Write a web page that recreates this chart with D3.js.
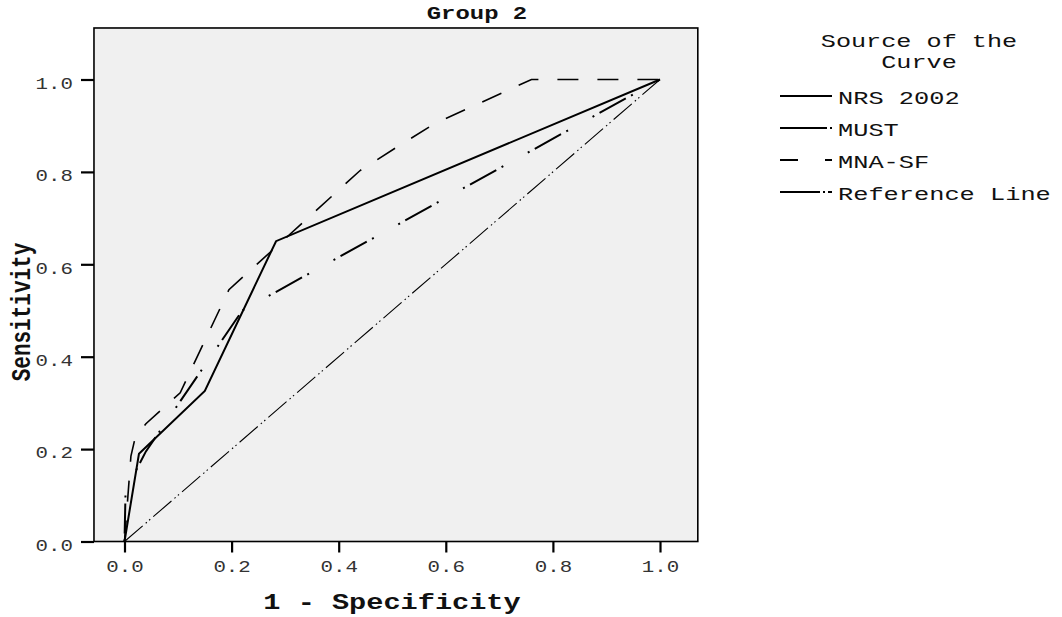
<!DOCTYPE html>
<html>
<head>
<meta charset="utf-8">
<script src="https://cdn.jsdelivr.net/npm/d3@7"></script>
<style>
  body { margin: 0; background: #fff; }
  svg { display: block; }
  text { font-family: "Liberation Mono", "Courier New", monospace; }
</style>
</head>
<body>
<script>
// ROC curves, values
const nrsX  = [0, 0.027, 0.15, 0.283, 1];
const nrsY  = [0, 0.19, 0.326, 0.65, 1];
const mustX = [0, 0.002, 0.04, 0.22, 1];
const mustY = [0, 0.11, 0.195, 0.5, 1];
const mnaX  = [0, 0.012, 0.02, 0.04, 0.104, 0.195, 0.44, 0.52, 0.58, 0.76, 1];
const mnaY  = [0, 0.185, 0.225, 0.255, 0.322, 0.545, 0.803, 0.862, 0.905, 1, 1];
const refX  = [0, 1];
const refY  = [0, 1];
const ticks = [0, 0.2, 0.4, 0.6, 0.8, 1.0];
const seriesNames = ["NRS 2002", "MUST", "MNA-SF", "Reference Line"];

const w = 1062, h = 617;
const sx = 1.3; // text in the picture is stretched sideways

const svg = d3.select("body").append("svg").attr("width", w).attr("height", h);

const xScale = d3.scaleLinear().domain([0, 1]).range([124.5, 660]);
const yScale = d3.scaleLinear().domain([0, 1]).range([541.5, 79.5]);

// plot box
svg.append("rect")
   .attr("x", xScale(-0.0570)).attr("y", yScale(1.1115))
   .attr("width", xScale(1.0706) - xScale(-0.0570))
   .attr("height", yScale(0) - yScale(1.1115))
   .attr("fill", "#f0f0f0").attr("stroke", "#000").attr("stroke-width", 1.6);

function stretchedText(x, y, str, size, weight, anchor, k) {
  return svg.append("text")
     .attr("transform", `translate(${x},${y}) scale(${k || sx},1)`)
     .attr("text-anchor", anchor || "start")
     .attr("font-size", size)
     .attr("font-weight", weight || "normal")
     .attr("fill", "#111")
     .text(str);
}

// axes
const xAxis = d3.axisBottom(xScale).tickValues(ticks).tickFormat(d3.format(".1f")).tickSize(11);
const gx = svg.append("g").attr("transform", `translate(0,${yScale(0)})`).call(xAxis);
gx.select(".domain").remove();
gx.selectAll("line").attr("stroke-width", 2.2);
gx.selectAll("text").attr("y", 31).attr("dy", 0).attr("transform", `scale(${sx},1)`)
  .attr("font-size", 16).attr("fill", "#333").attr("font-family", null);

const yAxis = d3.axisLeft(yScale).tickValues(ticks).tickFormat(d3.format(".1f")).tickSize(13);
const gy = svg.append("g").attr("transform", `translate(${xScale(-0.0570)},0)`).call(yAxis);
gy.select(".domain").remove();
gy.selectAll("line").attr("stroke-width", 2.2);
gy.selectAll("text").attr("x", -21 / sx).attr("dy", "0.55em").attr("transform", `scale(${sx},1)`)
  .attr("font-size", 16).attr("fill", "#333").attr("font-family", null);

// titles
stretchedText(477, 19, "Group 2", 18, "bold", "middle", 1.33);
stretchedText(392, 609, "1 - Specificity", 22, "bold", "middle");
svg.append("text")
   .attr("transform", `translate(30,312) rotate(-90) scale(1,${sx})`)
   .attr("text-anchor", "middle").attr("font-size", 21).attr("font-weight", "bold")
   .attr("fill", "#111").text("Sensitivity");

// curves
const line = d3.line().x(d => xScale(d[0])).y(d => yScale(d[1]));
const curves = [
  { xs: refX,  ys: refY,  dash: "24,4,1.5,3,1.5,4", sw: 1.1 },
  { xs: mnaX,  ys: mnaY,  dash: "21,19",            sw: 1.6 },
  { xs: mustX, ys: mustY, dash: "2,6,30,6,2,28",    sw: 2 },
  { xs: nrsX,  ys: nrsY,  dash: null,               sw: 2 }
];
curves.forEach(c => {
  svg.append("path")
     .datum(c.xs.map((v, i) => [v, c.ys[i]]))
     .attr("d", line)
     .attr("fill", "none")
     .attr("stroke", "#000")
     .attr("stroke-width", c.sw)
     .attr("stroke-dasharray", c.dash);
});

// legend
stretchedText(919, 47, "Source of the", 18, "normal", "middle", 1.4);
stretchedText(919, 68, "Curve", 18, "normal", "middle", 1.4);
const legendDash = [null, "47,3,3,100", "18,27,7,100", "40,3,2,3,4,100"];
const legendY = [96, 128, 160, 192];
seriesNames.forEach((name, i) => {
  svg.append("line")
     .attr("x1", 780).attr("x2", 832)
     .attr("y1", legendY[i]).attr("y2", legendY[i])
     .attr("stroke", "#000").attr("stroke-width", 2)
     .attr("stroke-dasharray", legendDash[i]);
  stretchedText(838, legendY[i] + 8, name, 18.5, "normal", "start", 1.37);
});
</script>
</body>
</html>
